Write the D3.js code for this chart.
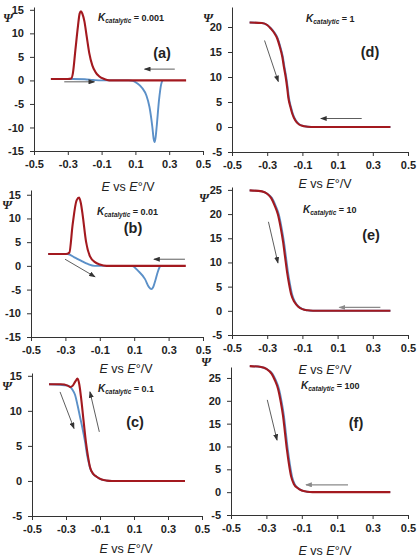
<!DOCTYPE html>
<html>
<head>
<meta charset="utf-8">
<script src="https://cdn.jsdelivr.net/npm/d3@7"></script>
<style>
    body { margin: 0; background: #fff; }
    svg { display: block; font-family: "Liberation Sans", Arial, sans-serif; }
    .axis path, .axis line { stroke: #333; stroke-width: 1; }
    .axis text { font-size: 11px; font-weight: bold; fill: #222; }
    .red { fill: none; stroke: #a3191f; stroke-width: 2.1; }
    .blue { fill: none; stroke: #5b90c8; stroke-width: 1.9; }
</style>
</head>
<body>
<script>
// E vs E°/V tick labels (shared by all panels)
const xTicks = [-0.5, -0.3, -0.1, 0.1, 0.3, 0.5];

// Kcatalytic values, one per panel
const kValues = ["0.001", "0.01", "0.1", "1", "10", "100"];
const panelNames = ["(a)", "(b)", "(c)", "(d)", "(e)", "(f)"];

// [E, Psi]; red = one scan direction, blue = the other
const redA = [[-0.40, 0.3], [-0.30, 0.3], [-0.28, 0.4], [-0.27, 1.5], [-0.255, 6.5], [-0.24, 11.5],
    [-0.23, 14.2], [-0.222, 14.7], [-0.214, 14.2], [-0.202, 12.6], [-0.188, 9.3], [-0.173, 5.8],
    [-0.155, 3.2], [-0.135, 1.7], [-0.115, 0.9], [-0.085, 0.3], [-0.055, 0], [0.40, 0]];
const blueA = [[-0.40, 0.3], [-0.27, 0.3], [-0.2, 0.25], [-0.15, 0.1], [-0.1, 0], [0.06, 0],
    [0.085, -0.1], [0.11, -0.6], [0.14, -1.6], [0.165, -3.2], [0.183, -5.6], [0.2, -9.8],
    [0.208, -12.4], [0.214, -13.1], [0.22, -12], [0.226, -9.8], [0.24, -4.1], [0.252, -0.9], [0.26, 0]];

const redB = [[-0.40, 2.5], [-0.297, 2.5], [-0.277, 2.8], [-0.258, 8.7], [-0.235, 13.8], [-0.22, 14.4],
    [-0.21, 13.2], [-0.2, 10.8], [-0.18, 5.1], [-0.157, 2], [-0.128, 0.8], [-0.1, 0.3], [-0.06, 0], [0.40, 0]];
const blueB = [[-0.40, 2.5], [-0.287, 2.5], [-0.248, 1.8], [-0.21, 1.1], [-0.17, 0.4], [-0.13, 0],
    [0.085, 0], [0.124, -1.1], [0.163, -2.8], [0.186, -4.5], [0.2, -4.9], [0.21, -4.5], [0.225, -2.8],
    [0.236, -1.4], [0.246, -0.4], [0.252, 0]];

const redC = [[-0.40, 13.8], [-0.33, 13.8], [-0.29, 13.6], [-0.275, 13.4], [-0.26, 13.6], [-0.245, 14.2],
    [-0.232, 14.6], [-0.222, 13.8], [-0.21, 11.6], [-0.195, 8.2], [-0.182, 5.4], [-0.17, 3.4],
    [-0.159, 2], [-0.14, 1.0], [-0.12, 0.6], [-0.09, 0.2], [-0.06, 0.05], [-0.03, 0], [0.40, 0]];
const blueC = [[-0.40, 13.8], [-0.29, 13.6], [-0.275, 13.4], [-0.262, 13.0], [-0.247, 12.3],
    [-0.232, 10.8], [-0.218, 9.2], [-0.203, 7.5], [-0.188, 5.6], [-0.175, 3.6], [-0.165, 2.5],
    [-0.159, 1.9], [-0.14, 1.0], [-0.12, 0.6], [-0.09, 0.2], [-0.03, 0], [0.40, 0]];

const redD = [[-0.40, 20.9], [-0.33, 20.8], [-0.30, 20.4], [-0.28, 19.7], [-0.26, 18.8], [-0.243, 17.7],
    [-0.228, 16], [-0.214, 14], [-0.205, 12], [-0.195, 10], [-0.187, 8], [-0.18, 5.9], [-0.168, 4],
    [-0.157, 2.6], [-0.14, 1.3], [-0.119, 0.5], [-0.09, 0.15], [-0.05, 0], [0.40, 0]];
const blueD = [[-0.40, 20.9], [-0.33, 20.8], [-0.30, 20.4], [-0.278, 19.7], [-0.257, 18.8], [-0.24, 17.7],
    [-0.225, 16], [-0.211, 14], [-0.202, 12], [-0.192, 10], [-0.184, 8], [-0.177, 5.9], [-0.165, 4],
    [-0.154, 2.6], [-0.137, 1.3], [-0.116, 0.5], [-0.087, 0.15], [-0.05, 0], [0.40, 0]];

const redE = [[-0.40, 24.9], [-0.33, 24.7], [-0.30, 24.2], [-0.277, 23.3], [-0.258, 21.8], [-0.239, 19.9],
    [-0.224, 17.3], [-0.21, 14.3], [-0.198, 11], [-0.1875, 8.1], [-0.175, 5.4], [-0.163, 3.3],
    [-0.145, 1.8], [-0.125, 0.9], [-0.1, 0.35], [-0.07, 0.1], [-0.04, 0], [0.40, 0]];
const blueE = [[-0.40, 24.9], [-0.33, 24.7], [-0.30, 24.2], [-0.273, 23.3], [-0.253, 21.8], [-0.234, 19.9],
    [-0.219, 17.3], [-0.205, 14.3], [-0.193, 11], [-0.1825, 8.1], [-0.17, 5.4], [-0.158, 3.3],
    [-0.141, 1.8], [-0.122, 0.9], [-0.098, 0.35], [-0.07, 0.1], [-0.04, 0], [0.40, 0]];

const redF = [[-0.394, 27.6], [-0.33, 27.4], [-0.30, 27], [-0.27, 25.9], [-0.252, 24.5], [-0.234, 22.6],
    [-0.22, 20], [-0.206, 16.7], [-0.195, 13], [-0.184, 9.3], [-0.172, 6], [-0.16, 3.4],
    [-0.145, 1.8], [-0.124, 0.9], [-0.1, 0.35], [-0.07, 0.1], [-0.04, 0], [0.40, 0]];
const blueF = [[-0.394, 27.6], [-0.33, 27.4], [-0.30, 27], [-0.266, 25.9], [-0.247, 24.5], [-0.229, 22.6],
    [-0.215, 20], [-0.201, 16.7], [-0.19, 13], [-0.179, 9.3], [-0.167, 6], [-0.155, 3.4],
    [-0.141, 1.8], [-0.121, 0.9], [-0.098, 0.35], [-0.07, 0.1], [-0.04, 0], [0.40, 0]];

// Scan-direction arrows, [E0, Psi0, E1, Psi1] in data units
const arrowsA = [[0.333, 2.4, 0.155, 2.4], [-0.321, -0.3, -0.143, -0.3]];
const arrowsB = [[0.395, 1.4, 0.215, 1.4], [-0.302, 1.4, -0.128, -2.3]];
const arrowsC = [[-0.335, 12.7, -0.253, 7.5], [-0.104, 7.0, -0.159, 12.7]];
const arrowsD = [[-0.315, 17.3, -0.237, 9.1], [0.237, 1.7, 0.005, 1.7]];
const arrowsE = [[-0.293, 18.4, -0.239, 9.9], [0.343, 0.7, 0.11, 0.7]];
const arrowsF = [[-0.295, 20.2, -0.24, 11.4], [0.161, 1.6, -0.076, 1.6]];

// y-axis ranges and tick values per panel
const yDomains = [[-15, 15.6], [-15, 16], [-5, 15.4], [-5, 24], [-5, 25.6], [-5, 27.4]];
const yTickSets = [
    [-15, -10, -5, 0, 5, 10, 15],
    [-15, -10, -5, 0, 5, 10, 15],
    [-5, 0, 5, 10, 15],
    [-5, 0, 5, 10, 15, 20],
    [-5, 0, 5, 10, 15, 20, 25],
    [-5, 0, 5, 10, 15, 20, 25]
];

const WIDTH = 418;
const HEIGHT = 558;

// Layout of every panel in page pixels
const layout = [
    { x0: 34, x1: 203, yBot: 151, yTop: 7, title: [128, 191], psi: [3, 22], k: [98, 21], name: [162, 58], gray: false },
    { x0: 31, x1: 203, yBot: 337, yTop: 190, title: [126, 373], psi: [2, 209], k: [97, 215], name: [133, 233], gray: false },
    { x0: 32, x1: 202, yBot: 516, yTop: 373, title: [126, 553], psi: [2, 390], k: [98, 392], name: [135, 427], gray: false },
    { x0: 232, x1: 408, yBot: 152, yTop: 7, title: [325, 188], psi: [203, 22], k: [306, 22], name: [370, 57], gray: false },
    { x0: 232, x1: 408, yBot: 335, yTop: 187, title: [325, 374], psi: [199, 202], k: [303, 213], name: [371, 240], gray: true },
    { x0: 231, x1: 408, yBot: 515, yTop: 367, title: [325, 555], psi: [201, 366], k: [301, 389], name: [356, 428], gray: true }
];

const reds = [redA, redB, redC, redD, redE, redF];
const blues = [blueA, blueB, blueC, blueD, blueE, blueF];
const arrows = [arrowsA, arrowsB, arrowsC, arrowsD, arrowsE, arrowsF];

// Plain hyphen for negatives, like the original figure
const fmtX = d => d.toFixed(1);
const fmtY = d => String(d);

const svg = d3.select("body")
    .append("svg")
    .attr("width", WIDTH)
    .attr("height", HEIGHT);

// Arrow heads
const defs = svg.append("defs");
[["head-dark", "#333"], ["head-gray", "#8a8a8a"]].forEach(([id, color]) => {
    defs.append("marker")
        .attr("id", id)
        .attr("viewBox", "0 0 8 6")
        .attr("refX", 7)
        .attr("refY", 3)
        .attr("markerWidth", 7)
        .attr("markerHeight", 5)
        .attr("markerUnits", "userSpaceOnUse")
        .attr("orient", "auto")
        .append("path")
        .attr("d", "M0,0L8,3L0,6Z")
        .attr("fill", color);
});

layout.forEach((p, i) => {
    const x = d3.scaleLinear().domain([-0.5, 0.5]).range([p.x0, p.x1]);
    const y = d3.scaleLinear().domain(yDomains[i]).range([p.yBot, p.yTop]);
    const g = svg.append("g");

    g.append("g")
        .attr("class", "axis")
        .attr("transform", `translate(0,${p.yBot})`)
        .call(d3.axisBottom(x).tickValues(xTicks).tickFormat(fmtX).tickSize(4).tickPadding(5).tickSizeOuter(0));

    g.append("g")
        .attr("class", "axis")
        .attr("transform", `translate(${p.x0},0)`)
        .call(d3.axisLeft(y).tickValues(yTickSets[i]).tickFormat(fmtY).tickSize(4).tickPadding(6).tickSizeOuter(0));

    g.selectAll(".axis .domain").attr("fill", "none");

    const line = d3.line()
        .x(d => x(d[0]))
        .y(d => y(d[1]))
        .curve(d3.curveMonotoneX);

    g.append("path").attr("class", "blue").attr("d", line(blues[i]));
    g.append("path").attr("class", "red").attr("d", line(reds[i]));

    // Scan direction arrows
    arrows[i].forEach((a, j) => {
        const gray = p.gray && j === 1;
        g.append("line")
            .attr("x1", x(a[0])).attr("y1", y(a[1]))
            .attr("x2", x(a[2])).attr("y2", y(a[3]))
            .attr("stroke", gray ? "#8a8a8a" : "#333")
            .attr("stroke-width", gray ? 1.3 : 0.8)
            .attr("marker-end", gray ? "url(#head-gray)" : "url(#head-dark)");
    });

    // x-axis title: E vs E°/V
    const t = g.append("text")
        .attr("x", p.title[0])
        .attr("y", p.title[1])
        .attr("text-anchor", "middle")
        .attr("font-size", 12.5)
        .attr("fill", "#222");
    t.append("tspan").attr("font-style", "italic").text("E");
    t.append("tspan").text(" vs ");
    t.append("tspan").attr("font-style", "italic").text("E");
    t.append("tspan").text("°/V");

    // Psi label
    g.append("text")
        .attr("x", p.psi[0])
        .attr("y", p.psi[1])
        .attr("font-family", "'Liberation Serif', serif")
        .attr("font-style", "italic")
        .attr("font-weight", "bold")
        .attr("font-size", 12.5)
        .attr("fill", "#222")
        .text("Ψ");

    // K catalytic label
    const k = g.append("text")
        .attr("x", p.k[0])
        .attr("y", p.k[1])
        .attr("font-weight", "bold")
        .attr("fill", "#222");
    k.append("tspan").attr("font-style", "italic").attr("font-size", 10).text("K");
    k.append("tspan").attr("font-style", "italic").attr("font-size", 6.5).attr("dy", 2).text("catalytic");
    k.append("tspan").attr("font-size", 9).attr("dy", -2).text(" = " + kValues[i]);

    // Panel name
    g.append("text")
        .attr("x", p.name[0])
        .attr("y", p.name[1])
        .attr("text-anchor", "middle")
        .attr("font-weight", "bold")
        .attr("font-size", 14.5)
        .attr("fill", "#222")
        .text(panelNames[i]);
});
</script>
</body>
</html>
